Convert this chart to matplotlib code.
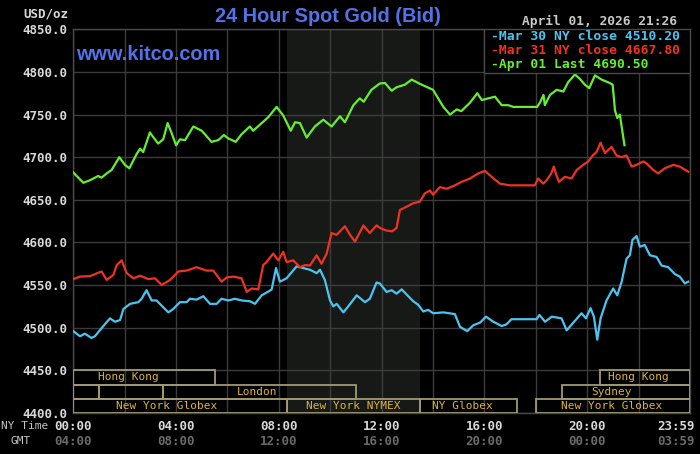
import matplotlib
matplotlib.use('Agg')
import matplotlib.pyplot as plt
from matplotlib.patches import Rectangle

# ---------------- data (NY time in hours, price USD/oz) ----------------
mar30_h = [0, 0.26, 0.45, 0.71, 0.84, 1.17, 1.43, 1.62, 1.82, 1.95, 2.21, 2.53, 2.66, 2.85,
           3.05, 3.24, 3.5, 3.7, 3.89, 4.15, 4.41, 4.54, 4.8, 5.06, 5.32, 5.58, 5.77, 6.03,
           6.29, 6.55, 6.88, 7.07, 7.33, 7.65, 7.72, 7.89, 8.04, 8.3, 8.69, 8.95, 9.21, 9.47,
           9.6, 9.79, 9.99, 10.12, 10.25, 10.51, 10.7, 11.03, 11.35, 11.54, 11.8, 11.93, 12.06,
           12.19, 12.39, 12.58, 12.78, 12.97, 13.23, 13.42, 13.62, 13.81, 14.0, 14.4, 14.85,
           15.05, 15.33, 15.57, 15.83, 16.06, 16.35, 16.67, 16.86, 17.05, 18.03, 18.14, 18.36,
           18.62, 19.0, 19.2, 19.46, 19.78, 19.95, 20.13, 20.26, 20.39, 20.52, 20.75, 21.01,
           21.17, 21.34, 21.53, 21.66, 21.76, 21.92, 22.05, 22.24, 22.44, 22.7, 22.89, 23.15,
           23.41, 23.6, 23.8, 23.93]
mar30_v = [4496, 4490, 4493, 4488, 4490, 4502, 4511, 4507, 4509, 4522, 4528, 4530, 4534, 4544,
           4532, 4532, 4524, 4518, 4522, 4530, 4530, 4534, 4533, 4537, 4528, 4528, 4534, 4532,
           4534, 4532, 4531, 4528, 4538, 4543.5, 4545, 4570, 4554, 4558, 4572, 4570, 4568, 4564,
           4568, 4556, 4532, 4525, 4528, 4518, 4525, 4538, 4530, 4534, 4553, 4552, 4547,
           4542, 4544, 4540, 4545, 4539, 4531, 4527, 4519, 4521, 4517, 4518, 4516,
           4501, 4496, 4503, 4506, 4513, 4507, 4502, 4504, 4510, 4510, 4515, 4507,
           4513, 4511, 4497, 4506, 4517, 4511, 4523, 4513, 4486, 4511, 4532, 4546,
           4538, 4554, 4581, 4585, 4603, 4607.5, 4595, 4597, 4585, 4583, 4573, 4571,
           4563, 4560, 4552, 4554]

mar31_h = [0, 0.26, 0.65, 1.1, 1.3, 1.56, 1.69, 1.88, 2.08, 2.34, 2.6, 2.92, 3.18, 3.44, 3.76,
           4.09, 4.41, 4.8, 5.19, 5.45, 5.77, 5.97, 6.23, 6.55, 6.75, 6.94, 7.2, 7.39, 7.52,
           7.78, 7.98, 8.17, 8.3, 8.56, 8.82, 9.02, 9.21, 9.47, 9.66, 9.86, 10.05, 10.25,
           10.57, 10.77, 10.96, 11.29, 11.54, 11.8, 12.0, 12.19, 12.4, 12.58, 12.71, 12.97,
           13.23, 13.49, 13.68, 13.88, 14.0, 14.27, 14.53, 14.85, 15.1, 15.44, 15.76, 16.02,
           16.2, 16.6, 16.99, 17.96, 18.09, 18.29, 18.42, 18.6, 18.7, 18.8, 18.9, 19.13, 19.39,
           19.59, 19.84, 20.04, 20.23, 20.36, 20.52, 20.69, 20.95, 21.14, 21.34, 21.53, 21.73,
           21.92, 22.18, 22.3, 22.57, 22.76, 23.02, 23.35, 23.6, 23.93]
mar31_v = [4557, 4560, 4560.5, 4566, 4556, 4562, 4573.5, 4579, 4564, 4558, 4561, 4557, 4558, 4550, 4556,
           4566, 4567, 4571, 4567, 4567, 4554, 4559, 4560, 4558, 4542, 4546, 4545, 4573.5, 4577,
           4587, 4579, 4589, 4577, 4579, 4571, 4573.5, 4573, 4585, 4575, 4587, 4611, 4609,
           4619, 4609, 4601, 4620, 4611, 4620, 4616, 4614, 4613, 4617, 4638, 4642,
           4646, 4648, 4657.5, 4661, 4656, 4665, 4663, 4667, 4671, 4675, 4681, 4684,
           4679, 4669, 4667, 4667, 4675, 4669, 4673, 4681, 4689, 4679, 4671, 4677, 4675,
           4685, 4691, 4695, 4702.5, 4706, 4717, 4705, 4712, 4702, 4700, 4702, 4689,
           4691, 4695, 4693, 4685, 4681, 4687, 4691, 4689, 4683]

apr01_h = [0, 0.39, 0.65, 0.97, 1.1, 1.3, 1.49, 1.79, 2.01, 2.18, 2.47, 2.6, 2.72, 2.98, 3.1,
           3.3, 3.5, 3.67, 3.83, 4.0, 4.15, 4.35, 4.67, 5.0, 5.38, 5.64, 5.86, 6.03, 6.32,
           6.55, 6.87, 7.0, 7.33, 7.59, 7.91, 8.17, 8.46, 8.63, 8.82, 9.08, 9.4, 9.73, 10.05,
           10.38, 10.57, 10.9, 11.15, 11.3, 11.6, 11.93, 12.13, 12.39, 12.58, 12.9, 13.17,
           13.49, 14.0, 14.4, 14.66, 14.92, 15.1, 15.44, 15.72, 15.9, 16.15, 16.41, 16.67,
           16.93, 17.12, 18.05, 18.16, 18.3, 18.35, 18.55, 18.81, 19.07, 19.26, 19.52, 19.71,
           19.91, 20.08, 20.3, 20.56, 20.88, 20.99, 21.08, 21.17, 21.27, 21.45]
apr01_v = [4682, 4670, 4673, 4678, 4676, 4681, 4685, 4700, 4691, 4687, 4704, 4710, 4706, 4729, 4724,
           4716, 4721, 4740, 4728, 4714, 4721, 4720, 4736, 4731, 4718, 4720, 4726, 4722, 4718,
           4727, 4736, 4731, 4740, 4747, 4759, 4749, 4731, 4741, 4740, 4723, 4736, 4744, 4736,
           4748, 4741, 4761, 4769, 4765, 4779, 4786.5, 4787, 4778, 4782, 4785, 4791,
           4786, 4779, 4759, 4750, 4756, 4754, 4764, 4775, 4767, 4769, 4771, 4761,
           4761, 4759, 4759, 4764, 4773, 4761, 4773, 4779, 4777, 4788, 4797, 4792,
           4785, 4781, 4796, 4791, 4787, 4785, 4755, 4746, 4750, 4714]

legend_labels = ["-Mar 30 NY close 4510.20", "-Mar 31 NY close 4667.80", "-Apr 01 Last 4690.50"]
y_ticks = [4400, 4450, 4500, 4550, 4600, 4650, 4700, 4750, 4800, 4850]
ny_tick_pos = [0, 4, 8, 12, 16, 20, 23.45]
ny_tick_labels = ["00:00", "04:00", "08:00", "12:00", "16:00", "20:00", "23:59"]
gmt_tick_labels = ["04:00", "08:00", "12:00", "16:00", "20:00", "00:00", "03:59"]

# sessions: (row, start, end, label, label_x)
sessions = [
    (0, 0.0, 5.5, "Hong Kong", 2.13),
    (0, 20.5, 24.0, "Hong Kong", 22.0),
    (1, 0.0, 1.0, "", 0),
    (1, 1.0, 3.5, "", 0),
    (1, 3.5, 11.0, "London", 7.14),
    (1, 19.0, 24.0, "Sydney", 20.96),
    (2, 0.0, 8.33, "New York Globex", 3.65),
    (2, 8.33, 13.5, "New York NYMEX", 10.9),
    (2, 13.5, 17.25, "NY Globex", 15.15),
    (2, 18.0, 24.0, "New York Globex", 20.96),
]

# ---------------- style ----------------
BG = 'black'
GRID = '#3c3c3c'
MONO = 'DejaVu Sans Mono'
BLUE = '#4cc4f0'
RED = '#ee3322'
GREEN = '#66ee33'
TITLE_BLUE = '#5272ea'

fig = plt.figure(figsize=(7, 4.54), dpi=100, facecolor=BG)
W, H = 700, 454
ax = fig.add_axes([73.3 / W, 1 - 413 / H, 616.7 / W, 383.7 / H], facecolor=BG)
ax.set_xlim(0, 24)
ax.set_ylim(4400, 4850)

ax.axvspan(8.33, 13.5, color='#171917', zorder=0, lw=0)
for h in range(0, 25, 2):
    ax.axvline(h, color=GRID, lw=1.0, zorder=1)
for v in y_ticks:
    ax.axhline(v, color=GRID, lw=1.0, zorder=1)
for s in ax.spines.values():
    s.set_color('#4a4a4a')
    s.set_linewidth(1.0)

ax.set_xticks([])
ax.set_yticks(y_ticks)
ax.set_yticklabels([f"{v:.1f}" for v in y_ticks], color='#d8d8d8',
                   fontfamily=MONO, fontweight='bold', fontsize=9)
ax.tick_params(axis='y', length=0, pad=4)

ax.plot(mar30_h, mar30_v, color=BLUE, lw=1.6, zorder=3)
ax.plot(mar31_h, mar31_v, color=RED, lw=1.6, zorder=3)
ax.plot(apr01_h, apr01_v, color=GREEN, lw=1.6, zorder=4)

# session bars
row_bounds = [(4433.3, 4450), (4416.7, 4433.3), (4400, 4416.7)]
for row, x0, x1, lab, lx in sessions:
    y0, y1 = row_bounds[row]
    ax.add_patch(Rectangle((x0, y0), x1 - x0, y1 - y0, fill=False,
                           edgecolor='#a09a72', lw=1.3, zorder=5))
    if lab:
        ax.text(lx, (y0 + y1) / 2, lab, color='#dcb43c', fontfamily=MONO,
                fontsize=8, ha='center', va='center', zorder=6)

# legend box
ax.add_patch(Rectangle((16.0, 4799), 8.0, 51, facecolor=BG, edgecolor='#4a4a4a',
                       lw=1.0, zorder=7))
for lab, col, yv in zip(legend_labels, [BLUE, RED, GREEN], [4841.3, 4825.7, 4809.3]):
    ax.text(16.25, yv, lab, color=col, fontfamily=MONO, fontweight='bold',
            fontsize=9.4, ha='left', va='center', zorder=8)

# x labels
for pos, l1, l2 in zip(ny_tick_pos, ny_tick_labels, gmt_tick_labels):
    ax.annotate(l1, xy=(pos, 0), xycoords=('data', 'axes fraction'),
                xytext=(0, -9.4), textcoords='offset points', ha='center', va='center',
                color='#d8d8d8', fontfamily=MONO, fontweight='bold', fontsize=9)
    ax.annotate(l2, xy=(pos, 0), xycoords=('data', 'axes fraction'),
                xytext=(0, -20.2), textcoords='offset points', ha='center', va='center',
                color='#6a6a6a', fontfamily=MONO, fontweight='bold', fontsize=9)

fig.text(25 / W, 1 - 426 / H, "NY Time", color='#c4c4c4', fontfamily=MONO,
         fontsize=8, ha='center', va='center')
fig.text(21 / W, 1 - 441 / H, "GMT", color='#c4c4c4', fontfamily=MONO,
         fontsize=8, ha='center', va='center')

fig.text(68 / W, 1 - 14 / H, "USD/oz", color='#d8d8d8', fontfamily=MONO,
         fontweight='bold', fontsize=9, ha='right', va='center')
fig.text(327.5 / W, 1 - 16 / H, "24 Hour Spot Gold (Bid)", color=TITLE_BLUE,
         fontfamily='Liberation Sans', fontweight='bold', fontsize=14.3,
         ha='center', va='center')
ax.text(76 / W, 1 - 60 / H, "www.kitco.com", color=TITLE_BLUE, transform=fig.transFigure,
        fontfamily='Liberation Sans', fontweight='bold', fontsize=14.3,
        ha='left', va='baseline', zorder=8)
fig.text(522 / W, 1 - 21.7 / H, "April 01, 2026 21:26", color='#c8c8c8', fontfamily=MONO,
         fontweight='bold', fontsize=9.3, ha='left', va='center')

fig.savefig('out.png', dpi=100, facecolor=BG)
